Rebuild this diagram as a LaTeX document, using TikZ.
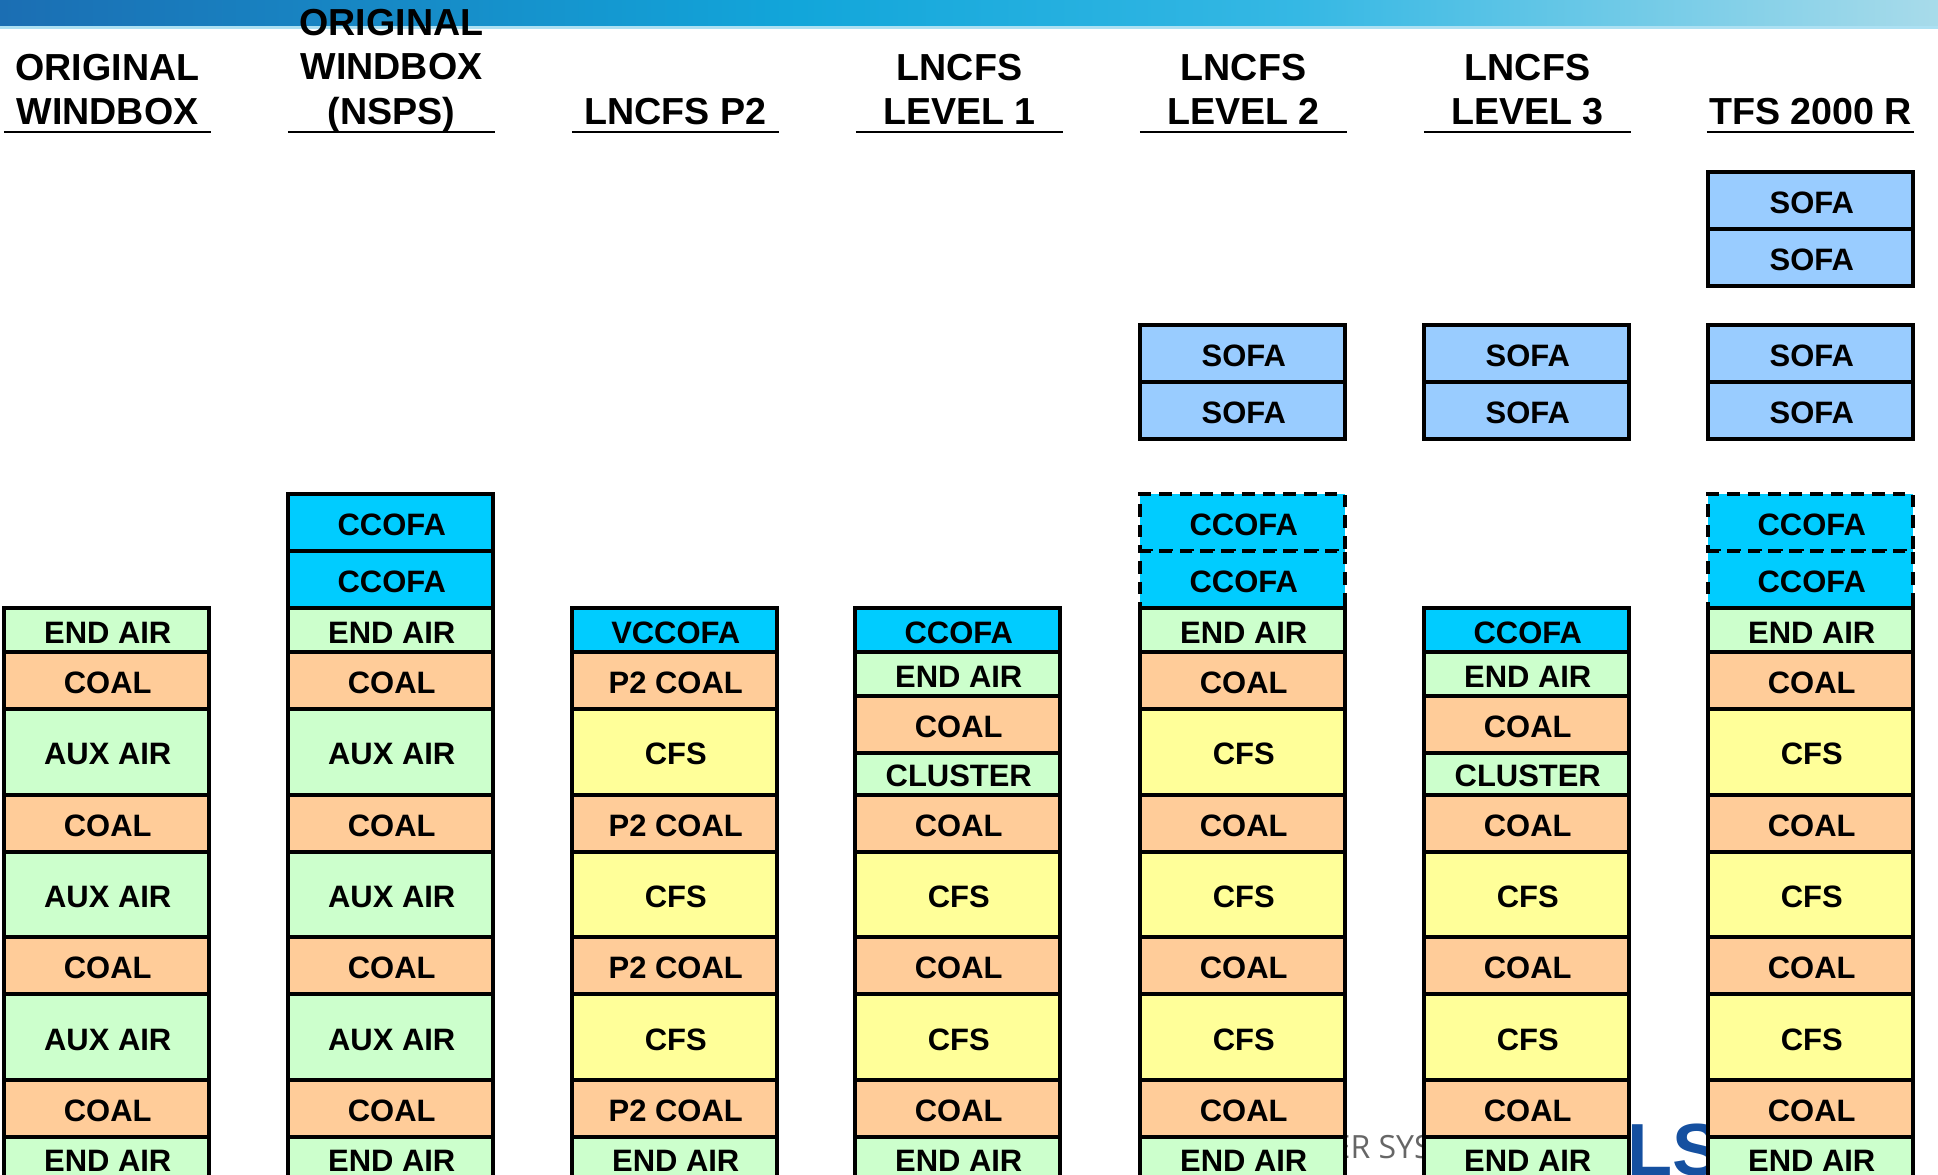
\documentclass[tikz,border=0pt]{standalone}
\usepackage{fontspec}
\setmainfont{Liberation Sans}
\newfontfamily\footerfont{Open Sans}
\usepackage{tikz}
\usetikzlibrary{positioning}
\definecolor{bandA}{HTML}{1B6EB3}
\definecolor{bandB}{HTML}{12A6DA}
\definecolor{bandC}{HTML}{35B8E4}
\definecolor{bandD}{HTML}{A8DBEA}
\definecolor{logoblue}{HTML}{1550A0}
\definecolor{endgreen}{HTML}{CCFFCC}
\definecolor{coalorange}{HTML}{FFCC99}
\definecolor{cfsyellow}{HTML}{FFFF99}
\definecolor{ofacyan}{HTML}{00CCFF}
\definecolor{sofablue}{HTML}{99CCFF}
\newcommand{\hstrut}{\rule[-2pt]{0pt}{1pt}}
\tikzset{
  level/.style={draw,line width=1.2pt,minimum width=2.05cm,inner sep=0pt,outer sep=0pt,anchor=north,
    text height=7.4pt,text depth=0pt,execute at begin node=\hspace{.7pt},
    font=\fontsize{8.8}{10}\selectfont\bfseries},
  endair/.style={level,fill=endgreen,minimum height=.44cm},
  auxair/.style={level,fill=endgreen,minimum height=.855cm},
  cluster/.style={level,fill=endgreen,minimum height=.415cm},
  coal/.style={level,fill=coalorange,minimum height=.57cm},
  cfs/.style={level,fill=cfsyellow,minimum height=.855cm},
  ccofa/.style={level,fill=ofacyan,minimum height=.57cm},
  ccofalow/.style={level,fill=ofacyan,minimum height=.44cm},
  ccofaopt/.style={ccofa,dash pattern=on 3.6pt off 2.3pt},
  sofa/.style={level,fill=sofablue,minimum height=.57cm},
  head/.style={minimum width=2.07cm,inner sep=0pt,outer sep=0pt,anchor=south,align=center,
    font=\fontsize{10.7}{12.6}\selectfont\bfseries}
}
\begin{document}
\begin{tikzpicture}[x=.01cm,y=-.01cm]
\useasboundingbox (0,0) rectangle (1938,1175);
\clip (0,0) rectangle (1938,1175);
% band along the top
\shade[left color=bandA,right color=bandB] (0,0) rectangle (800,26);
\shade[left color=bandB,right color=bandC] (800,0) rectangle (1300,26);
\shade[left color=bandC,right color=bandD] (1300,0) rectangle (1938,26);
\fill[bandB!35] (0,26) rectangle (1938,29);
% footer behind the columns
\node[text=black!60,inner sep=0pt,font=\footerfont\fontsize{9.1}{11}\selectfont,anchor=base west] (footer) at (1332,1158) {ER SYS};
\node[text=logoblue,inner sep=0pt,font=\fontsize{21}{24}\selectfont\bfseries,anchor=base west] (logo) at (1627,1175) {LS};
% column tops
\coordinate (C1) at (106.5,608);
\coordinate (C2) at (390.5,494);
\coordinate (C3) at (674.5,608);
\coordinate (C4) at (957.5,608);
\coordinate (C5) at (1242.5,494);
\coordinate (C6) at (1526.5,608);
\coordinate (C7) at (1810.5,494);
\coordinate (S5) at (1242.5,325);
\coordinate (S6) at (1526.5,325);
\coordinate (S7) at (1810.5,325);
\coordinate (T7) at (1810.5,172);
% headers
\node[head] (h1) at (107.5,132) {ORIGINAL\\WINDBOX\hstrut};
\node[head] (h2) at (391.5,132) {ORIGINAL\\WINDBOX\\(NSPS)\hstrut};
\node[head] (h3) at (675.5,132) {LNCFS P2\hstrut};
\node[head] (h4) at (959.5,132) {LNCFS\\LEVEL 1\hstrut};
\node[head] (h5) at (1243.5,132) {LNCFS\\LEVEL 2\hstrut};
\node[head] (h6) at (1527.5,132) {LNCFS\\LEVEL 3\hstrut};
\node[head] (h7) at (1810.5,132) {TFS 2000 R\hstrut};
\foreach \h in {h1,h2,h3,h4,h5,h6,h7}
  \draw[line width=.75pt] (\h.south west) -- (\h.south east);
% original windbox
\node[endair] (a1) at (C1) {END AIR};
\node[coal,below=0pt of a1] (a2) {COAL};
\node[auxair,below=0pt of a2] (a3) {AUX AIR};
\node[coal,below=0pt of a3] (a4) {COAL};
\node[auxair,below=0pt of a4] (a5) {AUX AIR};
\node[coal,below=0pt of a5] (a6) {COAL};
\node[auxair,below=0pt of a6] (a7) {AUX AIR};
\node[coal,below=0pt of a7] (a8) {COAL};
\node[endair,below=0pt of a8] (a9) {END AIR};
% original windbox (nsps)
\node[ccofa] (b1) at (C2) {CCOFA};
\node[ccofa,below=0pt of b1] (b2) {CCOFA};
\node[endair,below=0pt of b2] (b3) {END AIR};
\node[coal,below=0pt of b3] (b4) {COAL};
\node[auxair,below=0pt of b4] (b5) {AUX AIR};
\node[coal,below=0pt of b5] (b6) {COAL};
\node[auxair,below=0pt of b6] (b7) {AUX AIR};
\node[coal,below=0pt of b7] (b8) {COAL};
\node[auxair,below=0pt of b8] (b9) {AUX AIR};
\node[coal,below=0pt of b9] (b10) {COAL};
\node[endair,below=0pt of b10] (b11) {END AIR};
% lncfs p2
\node[ccofalow] (p1) at (C3) {VCCOFA};
\node[coal,below=0pt of p1] (p2) {P2 COAL};
\node[cfs,below=0pt of p2] (p3) {CFS};
\node[coal,below=0pt of p3] (p4) {P2 COAL};
\node[cfs,below=0pt of p4] (p5) {CFS};
\node[coal,below=0pt of p5] (p6) {P2 COAL};
\node[cfs,below=0pt of p6] (p7) {CFS};
\node[coal,below=0pt of p7] (p8) {P2 COAL};
\node[endair,below=0pt of p8] (p9) {END AIR};
% lncfs level 1
\node[ccofalow] (l1) at (C4) {CCOFA};
\node[endair,below=0pt of l1] (l2) {END AIR};
\node[coal,below=0pt of l2] (l3) {COAL};
\node[cluster,below=0pt of l3] (l4) {CLUSTER};
\node[coal,below=0pt of l4] (l5) {COAL};
\node[cfs,below=0pt of l5] (l6) {CFS};
\node[coal,below=0pt of l6] (l7) {COAL};
\node[cfs,below=0pt of l7] (l8) {CFS};
\node[coal,below=0pt of l8] (l9) {COAL};
\node[endair,below=0pt of l9] (l10) {END AIR};
% lncfs level 2
\node[sofa] (m1) at (S5) {SOFA};
\node[sofa,below=0pt of m1] (m2) {SOFA};
\node[ccofaopt] (m3) at (C5) {CCOFA};
\node[ccofaopt,below=0pt of m3] (m4) {CCOFA};
\node[endair,below=0pt of m4] (m5) {END AIR};
\node[coal,below=0pt of m5] (m6) {COAL};
\node[cfs,below=0pt of m6] (m7) {CFS};
\node[coal,below=0pt of m7] (m8) {COAL};
\node[cfs,below=0pt of m8] (m9) {CFS};
\node[coal,below=0pt of m9] (m10) {COAL};
\node[cfs,below=0pt of m10] (m11) {CFS};
\node[coal,below=0pt of m11] (m12) {COAL};
\node[endair,below=0pt of m12] (m13) {END AIR};
% lncfs level 3
\node[sofa] (n1) at (S6) {SOFA};
\node[sofa,below=0pt of n1] (n2) {SOFA};
\node[ccofalow] (n3) at (C6) {CCOFA};
\node[endair,below=0pt of n3] (n4) {END AIR};
\node[coal,below=0pt of n4] (n5) {COAL};
\node[cluster,below=0pt of n5] (n6) {CLUSTER};
\node[coal,below=0pt of n6] (n7) {COAL};
\node[cfs,below=0pt of n7] (n8) {CFS};
\node[coal,below=0pt of n8] (n9) {COAL};
\node[cfs,below=0pt of n9] (n10) {CFS};
\node[coal,below=0pt of n10] (n11) {COAL};
\node[endair,below=0pt of n11] (n12) {END AIR};
% tfs 2000 r
\node[sofa] (t1) at (T7) {SOFA};
\node[sofa,below=0pt of t1] (t2) {SOFA};
\node[sofa] (t3) at (S7) {SOFA};
\node[sofa,below=0pt of t3] (t4) {SOFA};
\node[ccofaopt] (t5) at (C7) {CCOFA};
\node[ccofaopt,below=0pt of t5] (t6) {CCOFA};
\node[endair,below=0pt of t6] (t7) {END AIR};
\node[coal,below=0pt of t7] (t8) {COAL};
\node[cfs,below=0pt of t8] (t9) {CFS};
\node[coal,below=0pt of t9] (t10) {COAL};
\node[cfs,below=0pt of t10] (t11) {CFS};
\node[coal,below=0pt of t11] (t12) {COAL};
\node[cfs,below=0pt of t12] (t13) {CFS};
\node[coal,below=0pt of t13] (t14) {COAL};
\node[endair,below=0pt of t14] (t15) {END AIR};
\end{tikzpicture}
\end{document}
